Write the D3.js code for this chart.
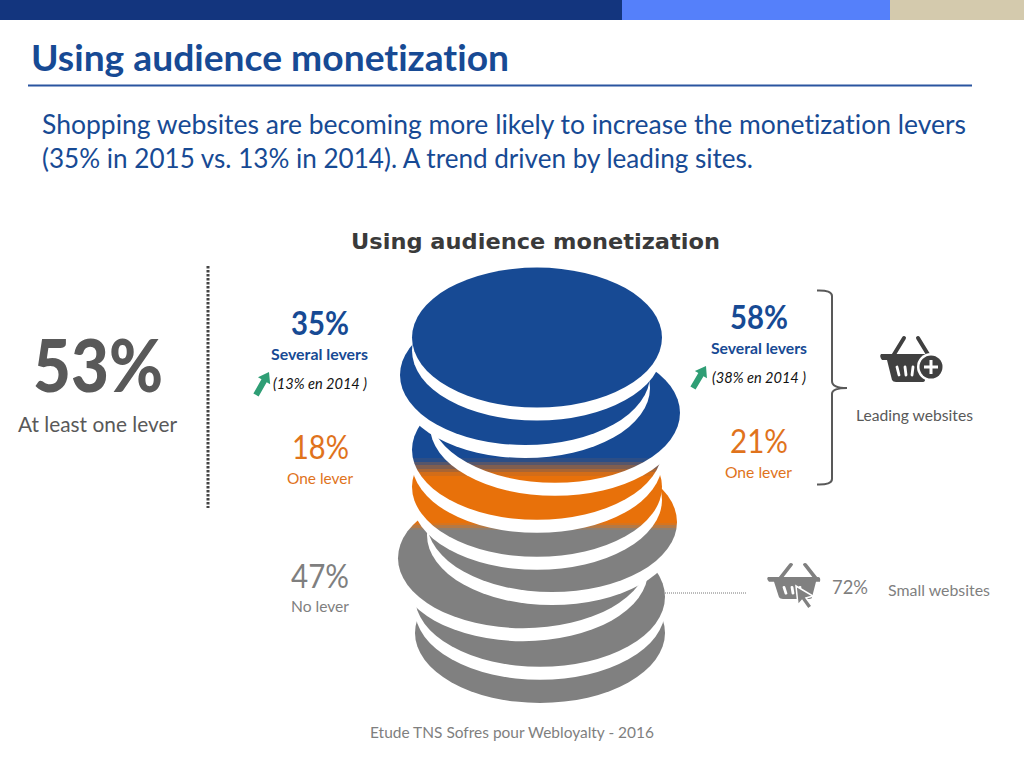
<!DOCTYPE html>
<html><head><meta charset="utf-8">
<script src="https://cdn.jsdelivr.net/npm/d3@7"></script>
<style>html,body{margin:0;padding:0;background:#fff;overflow:hidden}svg{display:block}text{font-family:Lato,"Open Sans",sans-serif;font-variant-ligatures:none}</style>
</head><body>
<svg id="c" width="1024" height="768"></svg>
<script>
// Data
const shareLabels = ["35%", "18%", "47%"];
const shareNames = ["Several levers", "One lever", "No lever"];
const leadingLabels = ["58%", "21%"];
const leadingNames = ["Several levers", "One lever"];
const priorYear = ["(13% en 2014 )", "(38% en 2014 )"];
const atLeastOne = "53%";
const smallShare = "72%";
// Nine stacked discs: depth of each centre as % of stack height, sideways drift in px
const discDepth = [16, 24.6, 33.3, 41.8, 50.3, 58.4, 66.7, 75.6, 83.9];
const discDrift = [0, -12, 18, 0, 0, 15, -14, 3, 3];
// Colour change positions as % of stack height
const blueEnds = 43.7, orangeStarts = 47.8, orangeEnds = 58.6, greyStarts = 60.2;

const BLUE = "#174a94", ORANGE = "#e8710a", GREY = "#808080";
const svg = d3.select("#c");

const y = d3.scaleLinear().domain([0, 100]).range([268, 703]);
const x = d3.scaleLinear().domain([-20, 20]).range([517, 557]);
const rx = 125, ry = 70, gap = 13;

// header
svg.selectAll("rect.top").data([[0, 622, "#13357e"], [622, 890, "#5580fa"], [890, 1024, "#d4caad"]])
  .join("rect").attr("class", "top").attr("x", d => d[0]).attr("y", 0)
  .attr("width", d => d[1] - d[0]).attr("height", 20).attr("fill", d => d[2]);
svg.append("line").attr("x1", 28).attr("x2", 972).attr("y1", 85.5).attr("y2", 85.5)
  .attr("stroke", "#2a55a0").attr("stroke-width", 2);

function label(t, x0, x1, base, size, fill, opts = {}) {
  const s = svg.append("text").text(t).attr("x", x0).attr("y", base)
    .attr("font-size", size).attr("fill", fill)
    .attr("textLength", x1 - x0).attr("lengthAdjust", "spacingAndGlyphs");
  if (opts.weight) s.attr("font-weight", opts.weight);
  if (opts.italic) s.attr("font-style", "italic");
  if (opts.family) s.style("font-family", opts.family);
  return s;
}

label("Using audience monetization", 31, 509, 71, 36, BLUE, {weight: 700});
label("Shopping websites are becoming more likely to increase the monetization levers", 42, 966, 134, 26, BLUE);
label("(35% in 2015 vs. 13% in 2014). A trend driven by leading sites.", 42, 753, 168, 26, BLUE);
label("Using audience monetization", 351, 720, 249, 22, "#3a3a3a", {weight: 700, family: "'DejaVu Sans'"});

// gradient through the stack
const defs = svg.append("defs");
const grad = defs.append("linearGradient").attr("id", "stack").attr("gradientUnits", "userSpaceOnUse")
  .attr("x1", 0).attr("x2", 0).attr("y1", y(0)).attr("y2", y(100));
function bands(a, b, ca, cb, n) {
  const mix = d3.interpolateRgb(ca, cb);
  const out = [];
  for (let i = 0; i < n; i++) {
    const c = mix((i + .5) / n);
    out.push([a + (b - a) * i / n, c], [a + (b - a) * (i + 1) / n, c]);
  }
  return out;
}
const stops = [[0, BLUE], [blueEnds, BLUE], ...bands(blueEnds, orangeStarts, BLUE, ORANGE, 5),
  [orangeStarts, ORANGE], [orangeEnds, ORANGE], ...bands(orangeEnds, greyStarts, ORANGE, GREY, 3),
  [greyStarts, GREY], [100, GREY]];
grad.selectAll("stop").data(stops).join("stop")
  .attr("offset", d => d[0] + "%").attr("stop-color", d => d[1]);

// discs, lowest painted first
const discs = d3.range(discDepth.length).reverse().map(i => ({depth: discDepth[i], drift: discDrift[i]}));
const g = svg.append("g");
discs.forEach(d => {
  g.append("ellipse").attr("cx", x(d.drift)).attr("cy", y(d.depth) + gap).attr("rx", rx).attr("ry", ry).attr("fill", "#fff");
  g.append("ellipse").attr("cx", x(d.drift)).attr("cy", y(d.depth)).attr("rx", rx).attr("ry", ry).attr("fill", "url(#stack)");
});

// left column
label(atLeastOne, 33, 163, 392, 72, "#595959", {weight: 900});
label("At least one lever", 18, 177, 432, 22, "#595959");
svg.append("line").attr("x1", 208).attr("x2", 208).attr("y1", 266).attr("y2", 508)
  .attr("stroke", "#444").attr("stroke-width", 3).attr("stroke-dasharray", "2.4 1.6");

// share columns
const ORANGE_T = "#e0731c", GREY_T = "#7f7f7f";
label(shareLabels[0], 291, 349, 335, 32, BLUE, {weight: 700});
label(shareNames[0], 271, 368, 360, 15.5, BLUE, {weight: 700});
label(priorYear[0], 273, 367, 389, 14.5, "#111", {italic: true});
label(shareLabels[1], 292, 349, 459, 32, ORANGE_T);
label(shareNames[1], 287, 353, 484, 15.5, ORANGE_T);
label(shareLabels[2], 291, 349, 588, 32, GREY_T);
label(shareNames[2], 291, 349, 612, 15.5, GREY_T);

label(leadingLabels[0], 730, 788, 329, 32, BLUE, {weight: 700});
label(leadingNames[0], 711, 807, 354, 15.5, BLUE, {weight: 700});
label(priorYear[1], 712, 806, 383, 14.5, "#111", {italic: true});
label(leadingLabels[1], 730, 788, 453, 32, ORANGE_T);
label(leadingNames[1], 725, 792, 478, 15.5, ORANGE_T);

// green arrows
function arrow(x0, y0, x1, y1) {
  const a = Math.atan2(y1 - y0, x1 - x0) * 180 / Math.PI, len = Math.hypot(x1 - x0, y1 - y0);
  svg.append("path").attr("transform", `translate(${x0},${y0}) rotate(${a})`)
    .attr("d", `M0,-3 L${len - 10},-3 L${len - 10},-7 L${len},0 L${len - 10},7 L${len - 10},3 L0,3 Z`)
    .attr("fill", "#2f9e75");
}
arrow(256, 395, 269, 372);
arrow(693, 388, 706, 366);

// bracket
svg.append("path").attr("fill", "none").attr("stroke", "#595959").attr("stroke-width", 2)
  .attr("d", "M817,290.5 Q832,290 832,296 L832,381 Q832,388 847,388 Q832,388 832,394 L832,479 Q832,485 817,484.5");

// baskets
function basket(tx, ty, sy, c) {
  const b = svg.append("g").attr("transform", `translate(${tx},${ty}) scale(1,${sy})`);
  b.append("path").attr("fill", "none").attr("stroke", c).attr("stroke-width", 4).attr("stroke-linecap", "round")
    .attr("d", "M14,20 L25,2 M39,2 L50,20");
  b.append("path").attr("fill", c)
    .attr("d", "M2,18 L52,18 Q55,18 54,24 L50,24 L46,44 Q46,46 43,46 L17,46 Q14,46 13,44 L8,24 L3,24 Q0,20 2,18 Z");
  b.selectAll("line.s").data([[18, 31, 20, 39], [26, 31, 27, 39], [34, 31, 33, 39]]).join("line")
    .attr("class", "s").attr("x1", d => d[0]).attr("y1", d => d[1]).attr("x2", d => d[2]).attr("y2", d => d[3])
    .attr("stroke", "#fff").attr("stroke-width", 2.8).attr("stroke-linecap", "round");
  return b;
}
basket(879, 336, 1, "#404040");
svg.append("circle").attr("cx", 931).attr("cy", 367).attr("r", 14).attr("fill", "#fff");
svg.append("circle").attr("cx", 931).attr("cy", 367).attr("r", 11.5).attr("fill", "#404040");
svg.append("path").attr("stroke", "#fff").attr("stroke-width", 3).attr("d", "M924,367 H938 M931,360 V374");
label("Leading websites", 856, 973, 421, 15.5, "#595959");

basket(766, 563, .78, "#808080");
svg.append("path").attr("fill", "#808080").attr("stroke", "#fff").attr("stroke-width", 1.5)
  .attr("d", "M796,586 L798,605 L802,600.5 L808,609 L812,606 L806,598 L813,596 Z");
svg.append("line").attr("x1", 665).attr("x2", 746).attr("y1", 593).attr("y2", 593)
  .attr("stroke", "#777").attr("stroke-width", 1).attr("stroke-dasharray", "1 1");
label(smallShare, 832, 868, 594, 19, GREY_T);
label("Small websites", 888, 990, 596, 15.5, GREY_T);

label("Etude TNS Sofres pour Webloyalty - 2016", 370, 654, 738, 15, GREY_T);
</script>
</body></html>
